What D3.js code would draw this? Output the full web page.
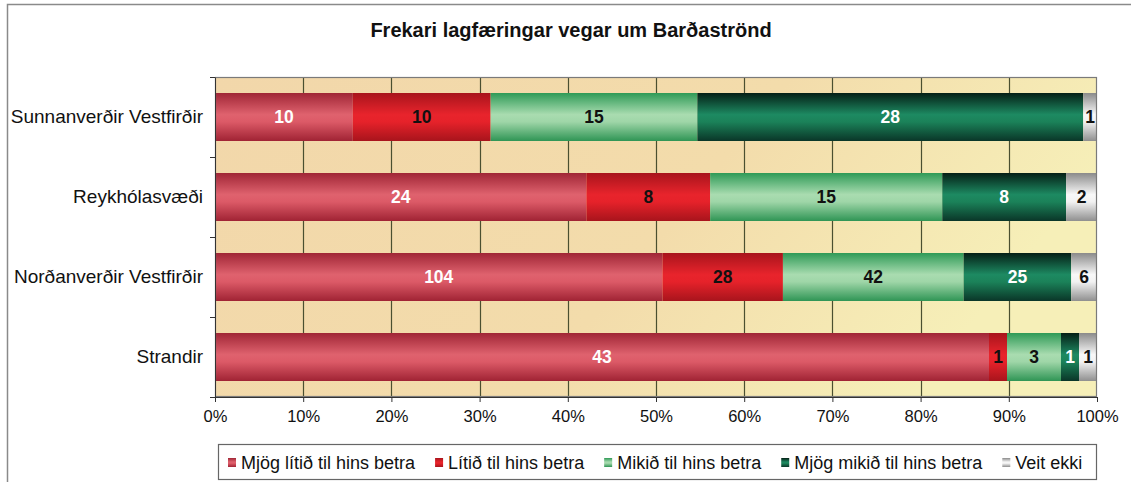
<!DOCTYPE html>
<html><head><meta charset="utf-8">
<script src="https://cdn.jsdelivr.net/npm/d3@7"></script>
<style>html,body{margin:0;padding:0;background:#fff;}svg{display:block;font-family:"Liberation Sans",Arial,sans-serif;}</style>
</head><body>
<svg id="chart" width="1131" height="482"></svg>
<script>
const title = "Frekari lagfæringar vegar um Barðaströnd";
const categories = ["Sunnanverðir Vestfirðir", "Reykhólasvæði", "Norðanverðir Vestfirðir", "Strandir"];
const seriesNames = ["Mjög lítið til hins betra", "Lítið til hins betra", "Mikið til hins betra", "Mjög mikið til hins betra", "Veit ekki"];
const mjogLitid = [10, 24, 104, 43];
const litid = [10, 8, 28, 1];
const mikid = [15, 15, 42, 3];
const mjogMikid = [28, 8, 25, 1];
const veitEkki = [1, 2, 6, 1];
const tickValues = [0, 0.1, 0.2, 0.3, 0.4, 0.5, 0.6, 0.7, 0.8, 0.9, 1];

(function () {
const seriesValues = [mjogLitid, litid, mikid, mjogMikid, veitEkki];
const gradStops = [
  [["0", "#a02636"], ["0.45", "#df626e"], ["0.6", "#dc5a67"], ["1", "#a02334"]],
  [["0", "#a8141c"], ["0.45", "#e8242c"], ["0.6", "#e6222a"], ["1", "#a8141c"]],
  [["0", "#2f9a57"], ["0.45", "#a9dcb0"], ["0.6", "#9fd6a8"], ["1", "#2f9555"]],
  [["0", "#051f16"], ["0.45", "#1d8a62"], ["0.6", "#1b8259"], ["1", "#0a3628"]],
  [["0", "#8a8a8a"], ["0.45", "#f8f8f8"], ["0.6", "#f2f2f2"], ["1", "#8f8f8f"]]
];
const labelColors = ["#ffffff", "#111111", "#111111", "#ffffff", "#111111"];

const svg = d3.select("#chart");
const defs = svg.append("defs");
gradStops.forEach((stops, i) => {
  const g = defs.append("linearGradient").attr("id", "g" + i)
    .attr("x1", 0).attr("y1", 0).attr("x2", 0).attr("y2", 1);
  stops.forEach(s => g.append("stop").attr("offset", s[0]).attr("stop-color", s[1]));
});
const bg = defs.append("linearGradient").attr("id", "bg").attr("x1", 0).attr("y1", 0).attr("x2", 1).attr("y2", 0.3);
bg.append("stop").attr("offset", "0").attr("stop-color", "#f2d7aa");
bg.append("stop").attr("offset", "0.6").attr("stop-color", "#f3dcab");
bg.append("stop").attr("offset", "1").attr("stop-color", "#f6efb8");

// outer border
svg.append("rect").attr("x", 7.5).attr("y", 4.5).attr("width", 1140).attr("height", 500)
  .attr("fill", "#fff").attr("stroke", "#8a8a8a").attr("stroke-width", 1.5);

const pl = 215, pr = 1097, pt = 77, pb = 397;
const x = d3.scaleLinear().domain([0, 1]).range([pl, pr]);
const y = d3.scaleBand().domain(categories).range([pt, pb]).paddingInner(0.4).paddingOuter(0.2);

svg.append("text").attr("x", 571).attr("y", 37).attr("text-anchor", "middle")
  .attr("font-size", 20).attr("font-weight", "bold").attr("fill", "#111").text(title);

svg.append("rect").attr("x", pl).attr("y", pt).attr("width", pr - pl).attr("height", pb - pt)
  .attr("fill", "url(#bg)");

// gridlines
svg.append("g").selectAll("line").data(tickValues.slice(1, -1)).join("line")
  .attr("x1", d => Math.round(x(d)) + 0.5).attr("x2", d => Math.round(x(d)) + 0.5)
  .attr("y1", pt).attr("y2", pb).attr("stroke", "#4a4f30").attr("stroke-width", 1.2);

// stacked data
const stacked = categories.map((c, ci) => {
  const total = d3.sum(seriesValues, s => s[ci]);
  let acc = 0;
  return seriesValues.map((s, si) => {
    const v = s[ci];
    const seg = { cat: c, si, v, x0: acc / total, x1: (acc + v) / total };
    acc += v;
    return seg;
  });
}).flat();

svg.append("g").selectAll("rect").data(stacked).join("rect")
  .attr("x", d => x(d.x0)).attr("width", d => x(d.x1) - x(d.x0))
  .attr("y", d => y(d.cat)).attr("height", y.bandwidth())
  .attr("fill", d => "url(#g" + d.si + ")");

svg.append("g").selectAll("text").data(stacked).join("text")
  .attr("x", d => (x(d.x0) + x(d.x1)) / 2).attr("y", d => y(d.cat) + y.bandwidth() / 2)
  .attr("dy", "0.36em").attr("text-anchor", "middle")
  .attr("font-size", 17.5).attr("font-weight", "bold")
  .attr("fill", d => labelColors[d.si]).text(d => d.v);

// plot border
svg.append("rect").attr("x", pl + 0.5).attr("y", pt + 0.5).attr("width", pr - pl - 1).attr("height", pb - pt - 1)
  .attr("fill", "none").attr("stroke", "#7a7a7a").attr("stroke-width", 1.2);

// x axis
const xAxis = d3.axisBottom(x).tickValues(tickValues).tickFormat(d3.format(".0%")).tickSize(5).tickPadding(8);
const gx = svg.append("g").attr("transform", `translate(0,${pb})`).call(xAxis);
gx.select(".domain").attr("stroke", "#333");
gx.selectAll(".tick line").attr("stroke", "#333");
gx.selectAll("text").attr("font-size", 16.5).attr("fill", "#111").attr("font-family", "Liberation Sans, Arial, sans-serif");

// y axis
const yAxis = d3.axisLeft(y).tickSize(0).tickPadding(12);
const gy = svg.append("g").attr("transform", `translate(${pl},0)`).call(yAxis);
gy.select(".domain").attr("stroke", "#333");
gy.selectAll("text").attr("font-size", 19).attr("fill", "#111").attr("font-family", "Liberation Sans, Arial, sans-serif");
const boundaries = categories.map(c => y(c) - y.step() * y.paddingInner() / 2).concat([pb]);
svg.append("g").selectAll("line").data(boundaries).join("line")
  .attr("x1", pl - 5).attr("x2", pl).attr("y1", d => Math.round(d) + 0.5).attr("y2", d => Math.round(d) + 0.5)
  .attr("stroke", "#333");

// legend
const lg = svg.append("g");
lg.append("rect").attr("x", 218.5).attr("y", 444.5).attr("width", 878).attr("height", 35)
  .attr("fill", "#fff").attr("stroke", "#666").attr("stroke-width", 1.2);
let lx = 228;
seriesNames.forEach((name, i) => {
  lg.append("rect").attr("x", lx).attr("y", 458).attr("width", 8).attr("height", 9)
    .attr("fill", "url(#g" + i + ")");
  const t = lg.append("text").attr("x", lx + 13).attr("y", 468.5).attr("font-size", 18).attr("fill", "#111").text(name);
  lx += 13 + t.node().getComputedTextLength() + 20;
});
})();
</script>
</body></html>
